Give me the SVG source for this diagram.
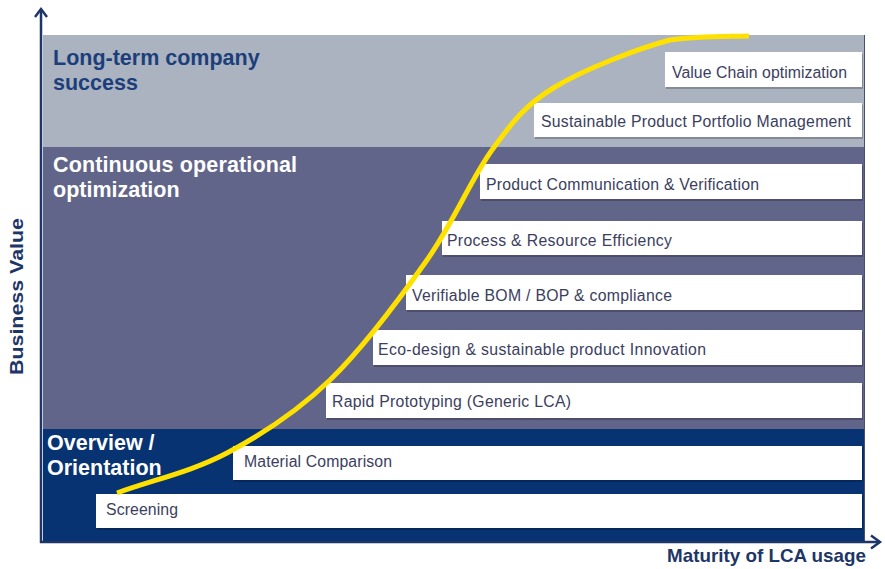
<svg xmlns="http://www.w3.org/2000/svg" width="885" height="569" viewBox="0 0 885 569">
  <style>
    .band-title { font-family: "Liberation Sans", Arial, sans-serif; font-weight: bold; font-size: 21.5px; }
    .box { fill: #ffffff; }
    .shadow { fill: #000000; fill-opacity: 0.22; }
    .lbl { font-family: "Liberation Sans", Arial, sans-serif; font-size: 15.8px; fill: #3b3e5e; }
    .axis { stroke: #1d3667; stroke-width: 2.5; fill: none; }
    .axis-title { font-family: "Liberation Sans", Arial, sans-serif; font-weight: bold; font-size: 19px; fill: #1d3667; }
  </style>
  <rect width="885" height="569" fill="#ffffff"/>

  <g id="bands">
    <rect x="43" y="35" width="822" height="112" fill="#aab3bf"/>
    <rect x="43" y="147" width="822" height="282" fill="#62658a"/>
    <rect x="43" y="429" width="822" height="113" fill="#073372"/>
    <line x1="864.5" y1="35" x2="864.5" y2="542" stroke="#4a4f70" stroke-width="1"/>
  </g>

  <g id="band-long-term">
    <text class="band-title" fill="#1c3f7c" x="53" y="65">Long-term company</text>
    <text class="band-title" fill="#1c3f7c" x="53" y="90">success</text>
  </g>
  <g id="band-continuous">
    <text class="band-title" fill="#ffffff" x="53" y="172" textLength="244" lengthAdjust="spacing">Continuous operational</text>
    <text class="band-title" fill="#ffffff" x="53" y="197">optimization</text>
  </g>
  <g id="band-overview">
    <text class="band-title" fill="#ffffff" x="47" y="450">Overview /</text>
    <text class="band-title" fill="#ffffff" x="47" y="475">Orientation</text>
  </g>

  <g id="box-value-chain">
    <rect class="shadow" x="666" y="54" width="197" height="35"/>
    <rect class="box" x="665" y="52" width="197" height="35"/>
    <text class="lbl" x="672" y="78" textLength="175" lengthAdjust="spacing">Value Chain optimization</text>
  </g>
  <g id="box-portfolio">
    <rect class="shadow" x="535" y="105" width="328" height="34"/>
    <rect class="box" x="534" y="103" width="328" height="34"/>
    <text class="lbl" x="541" y="127" textLength="310" lengthAdjust="spacing">Sustainable Product Portfolio Management</text>
  </g>
  <g id="box-communication">
    <rect class="shadow" x="481" y="166" width="382" height="35"/>
    <rect class="box" x="480" y="164" width="382" height="35"/>
    <text class="lbl" x="486" y="190" textLength="273" lengthAdjust="spacing">Product Communication &amp; Verification</text>
  </g>
  <g id="box-process">
    <rect class="shadow" x="443" y="223" width="420" height="34"/>
    <rect class="box" x="442" y="221" width="420" height="34"/>
    <text class="lbl" x="447" y="246" textLength="225" lengthAdjust="spacing">Process &amp; Resource Efficiency</text>
  </g>
  <g id="box-verifiable">
    <rect class="shadow" x="407" y="277" width="456" height="35"/>
    <rect class="box" x="406" y="275" width="456" height="35"/>
    <text class="lbl" x="412" y="301" textLength="260" lengthAdjust="spacing">Verifiable BOM / BOP &amp; compliance</text>
  </g>
  <g id="box-eco-design">
    <rect class="shadow" x="374" y="332" width="489" height="35"/>
    <rect class="box" x="373" y="330" width="489" height="35"/>
    <text class="lbl" x="378" y="355" textLength="328" lengthAdjust="spacing">Eco-design &amp; sustainable product Innovation</text>
  </g>
  <g id="box-rapid">
    <rect class="shadow" x="327" y="385" width="536" height="35"/>
    <rect class="box" x="326" y="383" width="536" height="35"/>
    <text class="lbl" x="332" y="407" textLength="239" lengthAdjust="spacing">Rapid Prototyping (Generic LCA)</text>
  </g>
  <g id="box-material">
    <rect class="shadow" x="234" y="448" width="629" height="34"/>
    <rect class="box" x="233" y="446" width="629" height="34"/>
    <text class="lbl" x="244" y="467" textLength="148" lengthAdjust="spacing">Material Comparison</text>
  </g>
  <g id="box-screening">
    <rect class="shadow" x="97" y="496" width="766" height="34"/>
    <rect class="box" x="96" y="494" width="766" height="34"/>
    <text class="lbl" x="106" y="515" textLength="72" lengthAdjust="spacing">Screening</text>
  </g>

  <g id="curve">
    <path d="M117,493 C153.7,479.7 191.5,471.8 227,453 C262.5,434.2 296.7,412.2 330,380 C363.3,347.8 400,298.3 427,260 C454,221.7 471,178.8 492,150 C513,121.2 525,105 555,87 C585,69 637.2,48.7 670,40 C700,36 723.3,36.7 749,36" fill="none" stroke="#ffe100" stroke-width="5" stroke-linecap="butt"/>
  </g>

  <g id="connectors">
    <line class="axis" x1="41" y1="543" x2="41" y2="9"/>
    <polyline class="axis" points="35,17 41,9 47,17"/>
    <line class="axis" x1="40" y1="542" x2="880" y2="542"/>
    <polyline class="axis" points="871,535.5 880,542 871,548.5"/>
  </g>

  <g id="axis-labels">
    <text class="axis-title" x="667" y="562" textLength="199" lengthAdjust="spacingAndGlyphs">Maturity of LCA usage</text>
    <text class="axis-title" font-size="21" transform="translate(23,375) rotate(-90)" textLength="157" lengthAdjust="spacingAndGlyphs">Business Value</text>
  </g>
</svg>
